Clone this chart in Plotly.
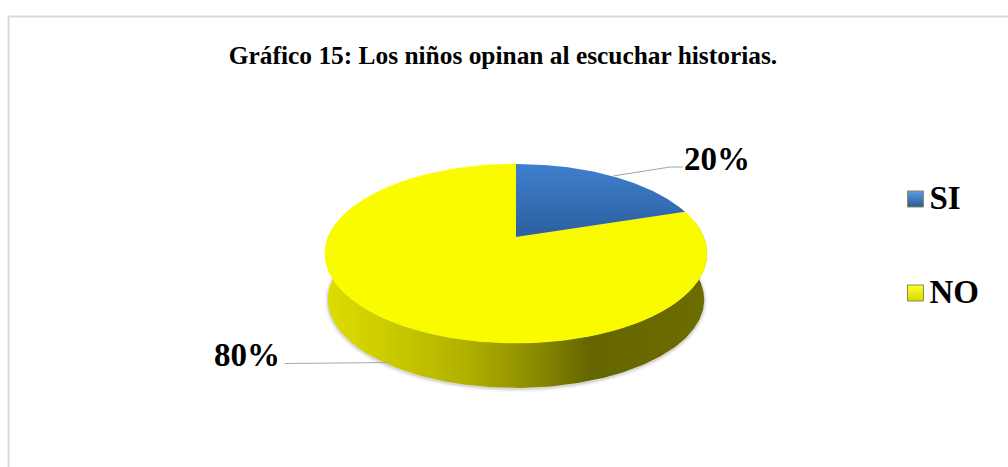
import numpy as np
import plotly.graph_objects as go

TITLE = "Gráfico 15: Los niños opinan al escuchar historias."
categories = ["SI", "NO"]
values = [20, 80]
labels = ["20%", "80%"]
colors = ["#3a76c4", "#fbfb00"]

# Projection of the tilted pie onto the page
CX, CY, A, B, C = 516.0, 237.0, 86.5, 187.8, 0.184
DEPTH = 46.5


def project(theta, radius=1.0, drop=0.0, shrink=1.0):
    u = radius * np.sin(theta)
    v = radius * np.cos(theta)
    d = 1 + C * v
    return CX + shrink * B * u / d, CY + drop - shrink * A * v / d


fractions = np.cumsum([0] + values) / sum(values)
wedges = []
for i in range(len(values)):
    t = np.linspace(fractions[i], fractions[i + 1], 160) * 2 * np.pi
    x, y = project(t)
    wedges.append((np.r_[CX, x, CX], np.r_[CY, y, CY]))

# Rim: the visible front half of the pie, all of it in the NO slice
tfront = np.linspace(np.radians(80), np.radians(280), 240)
tx, ty = project(tfront)
bx, by = project(tfront, drop=DEPTH, shrink=0.985)
side_x = np.r_[tx, bx[::-1], tx[0]]
side_y = np.r_[ty, by[::-1], ty[0]]

fig = go.Figure()

# Soft shadow below the rim
for width, alpha in [(7, 0.05), (4, 0.08), (2, 0.12)]:
    sx, sy = project(tfront, drop=DEPTH + 1, shrink=0.985)
    fig.add_trace(go.Scatter(x=sx, y=sy, mode="lines", hoverinfo="skip",
                             line=dict(color=f"rgba(90,90,90,{alpha})", width=width)))

fig.add_trace(go.Scatter(
    x=side_x, y=side_y, mode="lines", fill="toself", hoverinfo="skip",
    line=dict(width=0, color="rgba(0,0,0,0)"),
    fillgradient=dict(type="horizontal", colorscale=[
        [0, "#dede00"], [0.19, "#c8c800"], [0.37, "#b0b000"],
        [0.545, "#8c8c00"], [0.69, "#666600"], [1, "#6c6c00"]]),
))

# Top face wedges
fig.add_trace(go.Scatter(
    x=wedges[1][0], y=wedges[1][1], mode="lines", fill="toself", name=categories[1],
    fillcolor=colors[1], line=dict(width=0.5, color=colors[1]), hoverinfo="skip",
))
fig.add_trace(go.Scatter(
    x=wedges[0][0], y=wedges[0][1], mode="lines", fill="toself", name=categories[0],
    line=dict(width=0, color="rgba(0,0,0,0)"), hoverinfo="skip",
    fillgradient=dict(type="vertical", colorscale=[[0, "#2c5f9e"], [1, "#3f7fcf"]]),
))

# Leader lines
fig.add_trace(go.Scatter(x=[613, 670, 683], y=[176, 167, 167], mode="lines", hoverinfo="skip",
                         line=dict(color="#a6a6a6", width=1.2)))
fig.add_trace(go.Scatter(x=[285, 390], y=[363.5, 362.5], mode="lines", hoverinfo="skip",
                         line=dict(color="#a6a6a6", width=1.2)))

# Data labels and title
font = dict(family="Liberation Serif", color="black")
fig.add_trace(go.Scatter(
    x=[717, 247], y=[162, 358], mode="text", text=labels, hoverinfo="skip",
    textposition="middle center", textfont=dict(size=33, **font, weight="bold"),
))
fig.add_trace(go.Scatter(
    x=[503], y=[58], mode="text", text=[TITLE], hoverinfo="skip",
    textposition="middle center", textfont=dict(size=25.4, **font, weight="bold"),
))

# Legend
fig.add_trace(go.Scatter(
    x=[915.5, 915.5], y=[199, 293], mode="markers", hoverinfo="skip",
    marker=dict(symbol="square", size=16, color=["#5b9be8", "#ffff30"],
                line=dict(width=1, color="#8a8a50"),
                gradient=dict(type="vertical", color=["#2c5a94", "#d8d800"])),
))
fig.add_trace(go.Scatter(
    x=[929.5, 929.5], y=[201, 295], mode="text", text=categories, hoverinfo="skip",
    textposition="middle right", textfont=dict(size=33, **font, weight="bold"),
))

fig.update_layout(
    width=1008, height=467, margin=dict(l=0, r=0, t=0, b=0),
    paper_bgcolor="white", plot_bgcolor="white", showlegend=False,
    xaxis=dict(range=[0, 1008], visible=False, fixedrange=True),
    yaxis=dict(range=[467, 0], visible=False, fixedrange=True),
    shapes=[dict(type="rect", xref="x", yref="y", x0=8.5, y0=16.5, x1=1030, y1=480,
                 line=dict(color="#d9d9d9", width=2), layer="below")],
)

fig.write_html("out.html", config=dict(displayModeBar=False),
               post_script="document.body.style.margin='0';document.body.style.overflow='hidden';")
